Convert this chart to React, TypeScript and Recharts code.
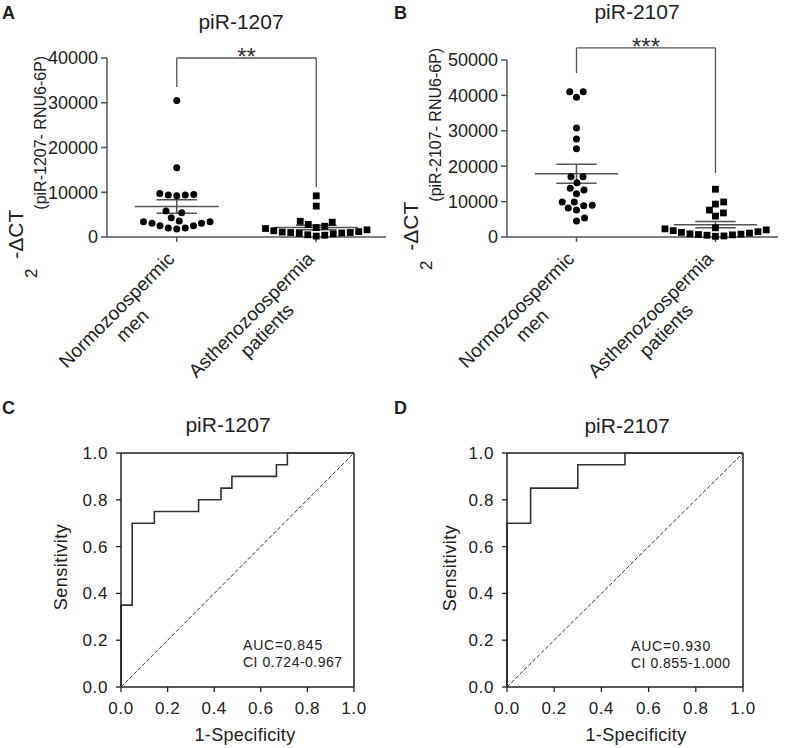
import React from 'react';
import { ScatterChart, Scatter, XAxis, YAxis, ReferenceLine, ReferenceDot, LineChart, Line } from 'recharts';

const FONT = "'Liberation Sans', Arial, Helvetica, sans-serif";
const AXIS = '#555';
const INK = '#222';

// ---------------- data ----------------
const groupCenters = [1, 2];
const groupLabels = [['Normozoospermic', 'men'], ['Asthenozoospermia', 'patients']];

const normal1207 = [30500, 15500, 9700, 9400, 9200, 9400, 9500, 5800, 5400, 4300, 3600, 3400, 3100, 2500, 2000, 1800, 2000, 2500, 3100, 3400];
const astheno1207 = [9200, 6900, 3500, 3300, 2800, 2400, 2100, 1900, 1600, 1400, 1200, 1100, 1000, 1000, 900, 800, 700, 500, 400, 200];
const normal2107 = [41000, 39500, 41000, 30800, 27700, 24900, 17000, 17000, 15300, 13800, 13300, 12200, 9900, 9000, 8200, 7600, 8800, 9900, 4500, 5400];
const astheno2107 = [13500, 9900, 9300, 7600, 6800, 5900, 2600, 2300, 2000, 1800, 1500, 1300, 1100, 900, 800, 700, 600, 500, 300, 200];

const yTicks1207 = [0, 10000, 20000, 30000, 40000];
const yTicks2107 = [0, 10000, 20000, 30000, 40000, 50000];

const bracket1207 = { top: 40000, leftEnd: 33500, rightEnd: 11200, stars: '**' };
const bracket2107 = { top: 53400, leftEnd: 46300, rightEnd: 18100, stars: '***' };

const rocFpr1207 = [0, 0, 0.048, 0.048, 0.143, 0.143, 0.333, 0.333, 0.429, 0.429, 0.476, 0.476, 0.667, 0.667, 0.714, 0.714, 1];
const rocTpr1207 = [0, 0.35, 0.35, 0.7, 0.7, 0.75, 0.75, 0.8, 0.8, 0.85, 0.85, 0.9, 0.9, 0.95, 0.95, 1, 1];
const rocFpr2107 = [0, 0, 0.1, 0.1, 0.3, 0.3, 0.5, 0.5, 1];
const rocTpr2107 = [0, 0.7, 0.7, 0.85, 0.85, 0.95, 0.95, 1, 1];
const rocTicks = [0, 0.2, 0.4, 0.6, 0.8, 1];
const auc1207 = ['AUC=0.845', 'CI 0.724-0.967'];
const auc2107 = ['AUC=0.930', 'CI 0.855-1.000'];

// ---------------- helpers ----------------
let ctx: any = null;
function measure(s: string, font: string) {
  try {
    if (!ctx) ctx = document.createElement('canvas').getContext('2d');
    ctx.font = font;
    return ctx.measureText(s).width;
  } catch (e) {
    return s.length * 10;
  }
}

function stats(v: number[]) {
  const n = v.length;
  const mean = v.reduce((a, b) => a + b, 0) / n;
  const sd = Math.sqrt(v.reduce((a, b) => a + (b - mean) * (b - mean), 0) / (n - 1));
  return { mean, sem: sd / Math.sqrt(n) };
}

// beeswarm layout: values sorted ascending, each placed at the smallest horizontal offset that does not collide
function swarm(values: number[], center: number, pxX: number, pxY: number, D: number) {
  const order = values.map((_, i) => i).sort((a, b) => values[a] - values[b]);
  const placed: { dx: number; py: number }[] = [];
  const res: { x: number; y: number }[] = new Array(values.length);
  let side = 1;
  for (const i of order) {
    const py = values[i] * pxY;
    const ok = (dx: number) => placed.every((p) => (p.dx - dx) ** 2 + (p.py - py) ** 2 >= D * D - 1e-6);
    let chosen = 0;
    if (!ok(0)) {
      for (let s = 0.25; s < 300; s += 0.25) {
        if (ok(side * s)) { chosen = side * s; break; }
        if (ok(-side * s)) { chosen = -side * s; break; }
      }
    }
    if (chosen !== 0) side = chosen > 0 ? -1 : 1;
    placed.push({ dx: chosen, py });
    res[i] = { x: center + chosen / pxX, y: values[i] };
  }
  return res;
}

const Circle = (p: any) => <circle cx={p.cx} cy={p.cy} r={3.5} fill="#000" />;
const Square = (p: any) => <rect x={p.cx - 3.4} y={p.cy - 3.4} width={6.8} height={6.8} fill="#000" />;

const makeTick = (fs: number, fmt: (v: number) => string, axis: 'x' | 'y', ls = 0) => (p: any) => (
  <text
    x={p.x}
    y={p.y}
    dy={axis === 'y' ? '0.35em' : '0.71em'}
    textAnchor={axis === 'y' ? 'end' : 'middle'}
    fontSize={fs}
    fontFamily={FONT}
    letterSpacing={ls}
    fill={INK}
  >
    {fmt(p.payload.value)}
  </text>
);

function GroupTick(props: any) {
  const { x, y, payload } = props;
  const lines = groupLabels[Math.round(payload.value) - 1] || [];
  const fs = 19;
  const w = measure(lines[0], `${fs}px "Liberation Sans"`);
  return (
    <g transform={`translate(${x - 1},${y + 16}) rotate(-45)`}>
      <text textAnchor="middle" fontFamily={FONT} fontSize={fs} fill={INK}>
        {lines.map((l, i) => (
          <tspan key={i} x={-w / 2} dy={i === 0 ? 0 : 22}>{l}</tspan>
        ))}
      </text>
    </g>
  );
}

function errorLines(v: number[], c: number, key: string) {
  const { mean, sem } = stats(v);
  const common = { stroke: AXIS, strokeWidth: 1.5, ifOverflow: 'visible' as const };
  return [
    <ReferenceLine key={key + 'm'} segment={[{ x: c - 0.3, y: mean }, { x: c + 0.3, y: mean }]} {...common} />,
    <ReferenceLine key={key + 'u'} segment={[{ x: c - 0.145, y: mean + sem }, { x: c + 0.145, y: mean + sem }]} {...common} />,
    <ReferenceLine key={key + 'l'} segment={[{ x: c - 0.145, y: mean - sem }, { x: c + 0.145, y: mean - sem }]} {...common} />,
    <ReferenceLine key={key + 'v'} segment={[{ x: c, y: mean - sem }, { x: c, y: mean + sem }]} {...common} />,
  ];
}

function TopPanel(props: any) {
  const { left, width, margin, xDomain, yMax, yTicks, normal, astheno, bracket } = props;
  const height = 400;
  const yAxisW = 60;
  const xAxisH = 150;
  const plotW = width - margin.left - yAxisW - margin.right;
  const plotH = height - margin.top - margin.bottom - xAxisH;
  const pxX = plotW / (xDomain[1] - xDomain[0]);
  const pxY = plotH / yMax;
  const ptsN = swarm(normal, groupCenters[0], pxX, pxY, 8.4);
  const ptsA = swarm(astheno, groupCenters[1], pxX, pxY, 8.4);
  const bl = { stroke: AXIS, strokeWidth: 1.3, ifOverflow: 'visible' as const };
  const [c1, c2] = groupCenters;
  return (
    <div style={{ position: 'absolute', left, top: 0 }}>
      <ScatterChart width={width} height={height} margin={margin}>
        <XAxis
          type="number"
          dataKey="x"
          domain={xDomain}
          ticks={groupCenters}
          interval={0}
          tick={(p: any) => <GroupTick {...p} />}
          tickLine={{ stroke: AXIS, strokeWidth: 1.5 }}
          axisLine={{ stroke: AXIS, strokeWidth: 1.5 }}
          tickSize={5}
          height={xAxisH}
        />
        <YAxis
          type="number"
          dataKey="y"
          domain={[0, yMax]}
          ticks={yTicks}
          interval={0}
          width={yAxisW}
          tickSize={6}
          tickMargin={3}
          tick={makeTick(18, (v) => String(v), 'y')}
          tickLine={{ stroke: AXIS, strokeWidth: 1.5 }}
          axisLine={{ stroke: AXIS, strokeWidth: 1.5 }}
        />
        {errorLines(normal, c1, 'n')}
        {errorLines(astheno, c2, 'a')}
        <ReferenceLine segment={[{ x: c1, y: bracket.leftEnd }, { x: c1, y: bracket.top }]} {...bl} />
        <ReferenceLine segment={[{ x: c1, y: bracket.top }, { x: c2, y: bracket.top }]} {...bl} />
        <ReferenceLine segment={[{ x: c2, y: bracket.top }, { x: c2, y: bracket.rightEnd }]} {...bl} />
        <ReferenceDot
          x={(c1 + c2) / 2}
          y={bracket.top}
          r={0}
          ifOverflow="visible"
          shape={(p: any) => (
            <text x={p.cx} y={p.cy + 7} textAnchor="middle" fontFamily={FONT} fontSize={24} fill="#333">
              {bracket.stars}
            </text>
          )}
        />
        <Scatter data={ptsN} shape={Circle} isAnimationActive={false} />
        <Scatter data={ptsA} shape={Square} isAnimationActive={false} />
      </ScatterChart>
    </div>
  );
}

function RocPanel(props: any) {
  const { left, width, margin, fpr, tpr } = props;
  const data = fpr.map((f: number, i: number) => ({ fpr: f, tpr: tpr[i] }));
  const fmt = (v: number) => v.toFixed(1);
  return (
    <div style={{ position: 'absolute', left, top: 400 }}>
      <LineChart width={width} height={348} margin={margin} data={data}>
        <XAxis
          type="number"
          dataKey="fpr"
          domain={[0, 1]}
          ticks={rocTicks}
          interval={0}
          height={50}
          tickSize={5}
          tickMargin={10}
          tick={makeTick(17, fmt, 'x', 0.6)}
          tickLine={{ stroke: INK, strokeWidth: 1.3 }}
          axisLine={{ stroke: INK, strokeWidth: 1.5 }}
        />
        <YAxis
          type="number"
          domain={[0, 1]}
          ticks={rocTicks}
          interval={0}
          width={60}
          tickSize={5}
          tickMargin={8}
          tick={makeTick(17, fmt, 'y', 0.6)}
          tickLine={{ stroke: INK, strokeWidth: 1.3 }}
          axisLine={{ stroke: INK, strokeWidth: 1.5 }}
        />
        <ReferenceLine y={1} stroke={INK} strokeWidth={1.5} />
        <ReferenceLine x={1} stroke={INK} strokeWidth={1.5} />
        <ReferenceLine segment={[{ x: 0, y: 0 }, { x: 1, y: 1 }]} stroke="#333" strokeWidth={1} strokeDasharray="4 2" />
        <Line type="linear" dataKey="tpr" stroke="#333" strokeWidth={1.6} dot={false} isAnimationActive={false} />
      </LineChart>
    </div>
  );
}

function YLabel({ x, y, name }: any) {
  return (
    <text transform={`translate(${x},${y}) rotate(-90)`} fontFamily={FONT} fill={INK}>
      <tspan fontSize={17}>2</tspan>
      <tspan fontSize={21} dy={-14} dx={4}> -ΔCT</tspan>
      <tspan fontSize={16} dy={23}>{`(${name}- RNU6-6P)`}</tspan>
    </text>
  );
}

export default function App() {
  const t = { fontFamily: FONT, fill: INK };
  return (
    <div style={{ position: 'absolute', left: 0, top: 0, width: 787, height: 748, background: '#fff', overflow: 'hidden' }}>
      <TopPanel
        left={0}
        width={400}
        margin={{ top: 58, right: 14, bottom: 13, left: 47 }}
        xDomain={[0.5, 2.5]}
        yMax={40000}
        yTicks={yTicks1207}
        normal={normal1207}
        astheno={astheno1207}
        bracket={bracket1207}
      />
      <TopPanel
        left={390}
        width={397}
        margin={{ top: 60, right: 9, bottom: 13, left: 57 }}
        xDomain={[0.5, 2.45]}
        yMax={50000}
        yTicks={yTicks2107}
        normal={normal2107}
        astheno={astheno2107}
        bracket={bracket2107}
      />
      <RocPanel left={0} width={400} margin={{ top: 53, right: 46, bottom: 11, left: 61 }} fpr={rocFpr1207} tpr={rocTpr1207} />
      <RocPanel left={390} width={397} margin={{ top: 53, right: 44, bottom: 11, left: 57 }} fpr={rocFpr2107} tpr={rocTpr2107} />
      <svg width={787} height={748} style={{ position: 'absolute', left: 0, top: 0, pointerEvents: 'none' }}>
        <text x={2} y={19} fontSize={18} fontWeight="bold" {...t}>A</text>
        <text x={394} y={19} fontSize={18} fontWeight="bold" {...t}>B</text>
        <text x={2} y={414} fontSize={18} fontWeight="bold" {...t}>C</text>
        <text x={394} y={414} fontSize={18} fontWeight="bold" {...t}>D</text>

        <text x={241} y={29} textAnchor="middle" fontSize={21} {...t}>piR-1207</text>
        <text x={637} y={19} textAnchor="middle" fontSize={21} {...t}>piR-2107</text>
        <text x={228} y={432} textAnchor="middle" fontSize={21} {...t}>piR-1207</text>
        <text x={627} y={433} textAnchor="middle" fontSize={21} {...t}>piR-2107</text>

        <YLabel x={37} y={278} name="piR-1207" />
        <YLabel x={432} y={270} name="piR-2107" />

        <text transform="translate(67,567) rotate(-90)" textAnchor="middle" fontSize={18} letterSpacing={0.5} {...t}>Sensitivity</text>
        <text transform="translate(456,568) rotate(-90)" textAnchor="middle" fontSize={18} letterSpacing={0.5} {...t}>Sensitivity</text>
        <text x={245} y={741} textAnchor="middle" fontSize={18} letterSpacing={0.3} {...t}>1-Specificity</text>
        <text x={636} y={741} textAnchor="middle" fontSize={18} letterSpacing={0.3} {...t}>1-Specificity</text>

        <text x={243} y={650} fontSize={14} letterSpacing={0.8} {...t}>{auc1207[0]}</text>
        <text x={243} y={667} fontSize={14} letterSpacing={0.5} {...t}>{auc1207[1]}</text>
        <text x={631} y={651} fontSize={14} letterSpacing={0.8} {...t}>{auc2107[0]}</text>
        <text x={631} y={668} fontSize={14} letterSpacing={0.5} {...t}>{auc2107[1]}</text>
      </svg>
    </div>
  );
}
